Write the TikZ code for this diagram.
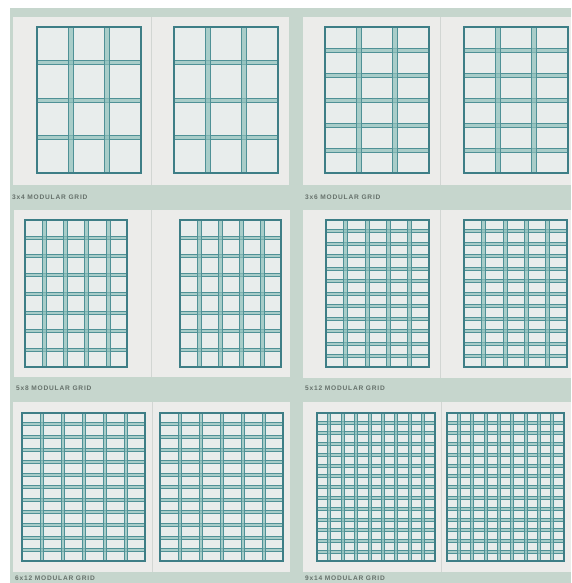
\documentclass[tikz,border=0pt]{standalone}
\usepackage{fontspec}
\setmainfont{Liberation Sans}
\newfontfamily\labfont[LetterSpace=12]{Liberation Sans}
\definecolor{sage}{HTML}{C6D6CD}
\definecolor{pagec}{HTML}{ECECEA}
\definecolor{spinec}{HTML}{D2D6D3}
\definecolor{cellc}{HTML}{E8EDEC}
\definecolor{gutc}{HTML}{8EC0BB}
\definecolor{linec}{HTML}{4F9196}
\definecolor{borderc}{HTML}{3E7E86}
\definecolor{labc}{HTML}{66716B}
\tikzset{
  pagebox/.style={fill=pagec},
  spine/.style={draw=spinec, line width=0.8pt},
  gutfill/.style={fill=gutc, fill opacity=0.7},
  gridline/.style={draw=linec, line width=0.5pt},
  gridborder/.style={draw=borderc, line width=1.1pt},
  gridlabel/.style={anchor=west, inner sep=0pt, text=labc, font=\labfont\bfseries\fontsize{6.6}{7}\selectfont}
}
\newcommand{\modgrid}[8]{%
  \fill[cellc] (#1,#2) rectangle (#3,#4);
  \pgfmathsetmacro\mgcw{(#3-#1-(#5-1)*#7)/#5}
  \pgfmathsetmacro\mgrh{(#4-#2-(#6-1)*#8)/#6}
  \pgfmathtruncatemacro\mgnc{#5-1}
  \pgfmathtruncatemacro\mgnr{#6-1}
  \foreach \mgi in {1,...,\mgnr}{
    \pgfmathsetmacro\mgya{#2+\mgi*\mgrh+(\mgi-1)*#8}
    \pgfmathsetmacro\mgyb{\mgya+#8}
    \fill[gutfill] (#1,\mgya) rectangle (#3,\mgyb);
    \draw[gridline] (#1,\mgya) -- (#3,\mgya) (#1,\mgyb) -- (#3,\mgyb);
  }
  \foreach \mgi in {1,...,\mgnc}{
    \pgfmathsetmacro\mgxa{#1+\mgi*\mgcw+(\mgi-1)*#7}
    \pgfmathsetmacro\mgxb{\mgxa+#7}
    \fill[gutfill] (\mgxa,#2) rectangle (\mgxb,#4);
    \draw[gridline] (\mgxa,#2) -- (\mgxa,#4) (\mgxb,#2) -- (\mgxb,#4);
  }
  \draw[gridborder] (#1,#2) rectangle (#3,#4);
}
% spread: x0 xmid x1 y0 y1
\newcommand{\spread}[5]{%
  \fill[pagebox] (#1,#4) rectangle (#3,#5);
  \draw[spine] (#2,#4) -- (#2,#5);
}
\begin{document}
\begin{tikzpicture}[x=1pt,y=-1pt]
\useasboundingbox (0,0) rectangle (571,583);
\fill[white] (0,0) rectangle (571,583);
\fill[sage] (10,8) rectangle (571,583);
% row 1
\spread{13}{151}{289}{17}{185}
\spread{303}{440.5}{571}{17}{185}
\modgrid{37}{27}{141}{173}{3}{4}{5}{4}
\modgrid{174}{27}{278}{173}{3}{4}{5}{4}
\modgrid{325}{27}{429}{173}{3}{6}{5}{4}
\modgrid{464}{27}{568}{173}{3}{6}{5}{4}
\node[gridlabel] (l1) at (12,197) {3x4 MODULAR GRID};
\node[gridlabel] (l2) at (305,197) {3x6 MODULAR GRID};
% row 2
\spread{14}{151}{290}{210}{377}
\spread{303}{440.5}{571}{210}{378}
\modgrid{25}{220}{127}{367}{5}{8}{4}{3}
\modgrid{180}{220}{281}{367}{5}{8}{4}{3}
\modgrid{326}{220}{429}{367}{5}{12}{4}{3}
\modgrid{464}{220}{567}{367}{5}{12}{4}{3}
\node[gridlabel] (l3) at (16,388) {5x8 MODULAR GRID};
\node[gridlabel] (l4) at (305,388) {5x12 MODULAR GRID};
% row 3
\spread{13}{152}{290}{402}{572}
\spread{303}{441}{571}{402}{572}
\modgrid{22}{413}{145}{561}{6}{12}{3}{3}
\modgrid{160}{413}{283}{561}{6}{12}{3}{3}
\modgrid{317}{413}{435}{561}{9}{14}{3}{3}
\modgrid{447}{413}{564}{561}{9}{14}{3}{3}
\node[gridlabel] (l5) at (15,578) {6x12 MODULAR GRID};
\node[gridlabel] (l6) at (305,578) {9x14 MODULAR GRID};
\end{tikzpicture}
\end{document}
